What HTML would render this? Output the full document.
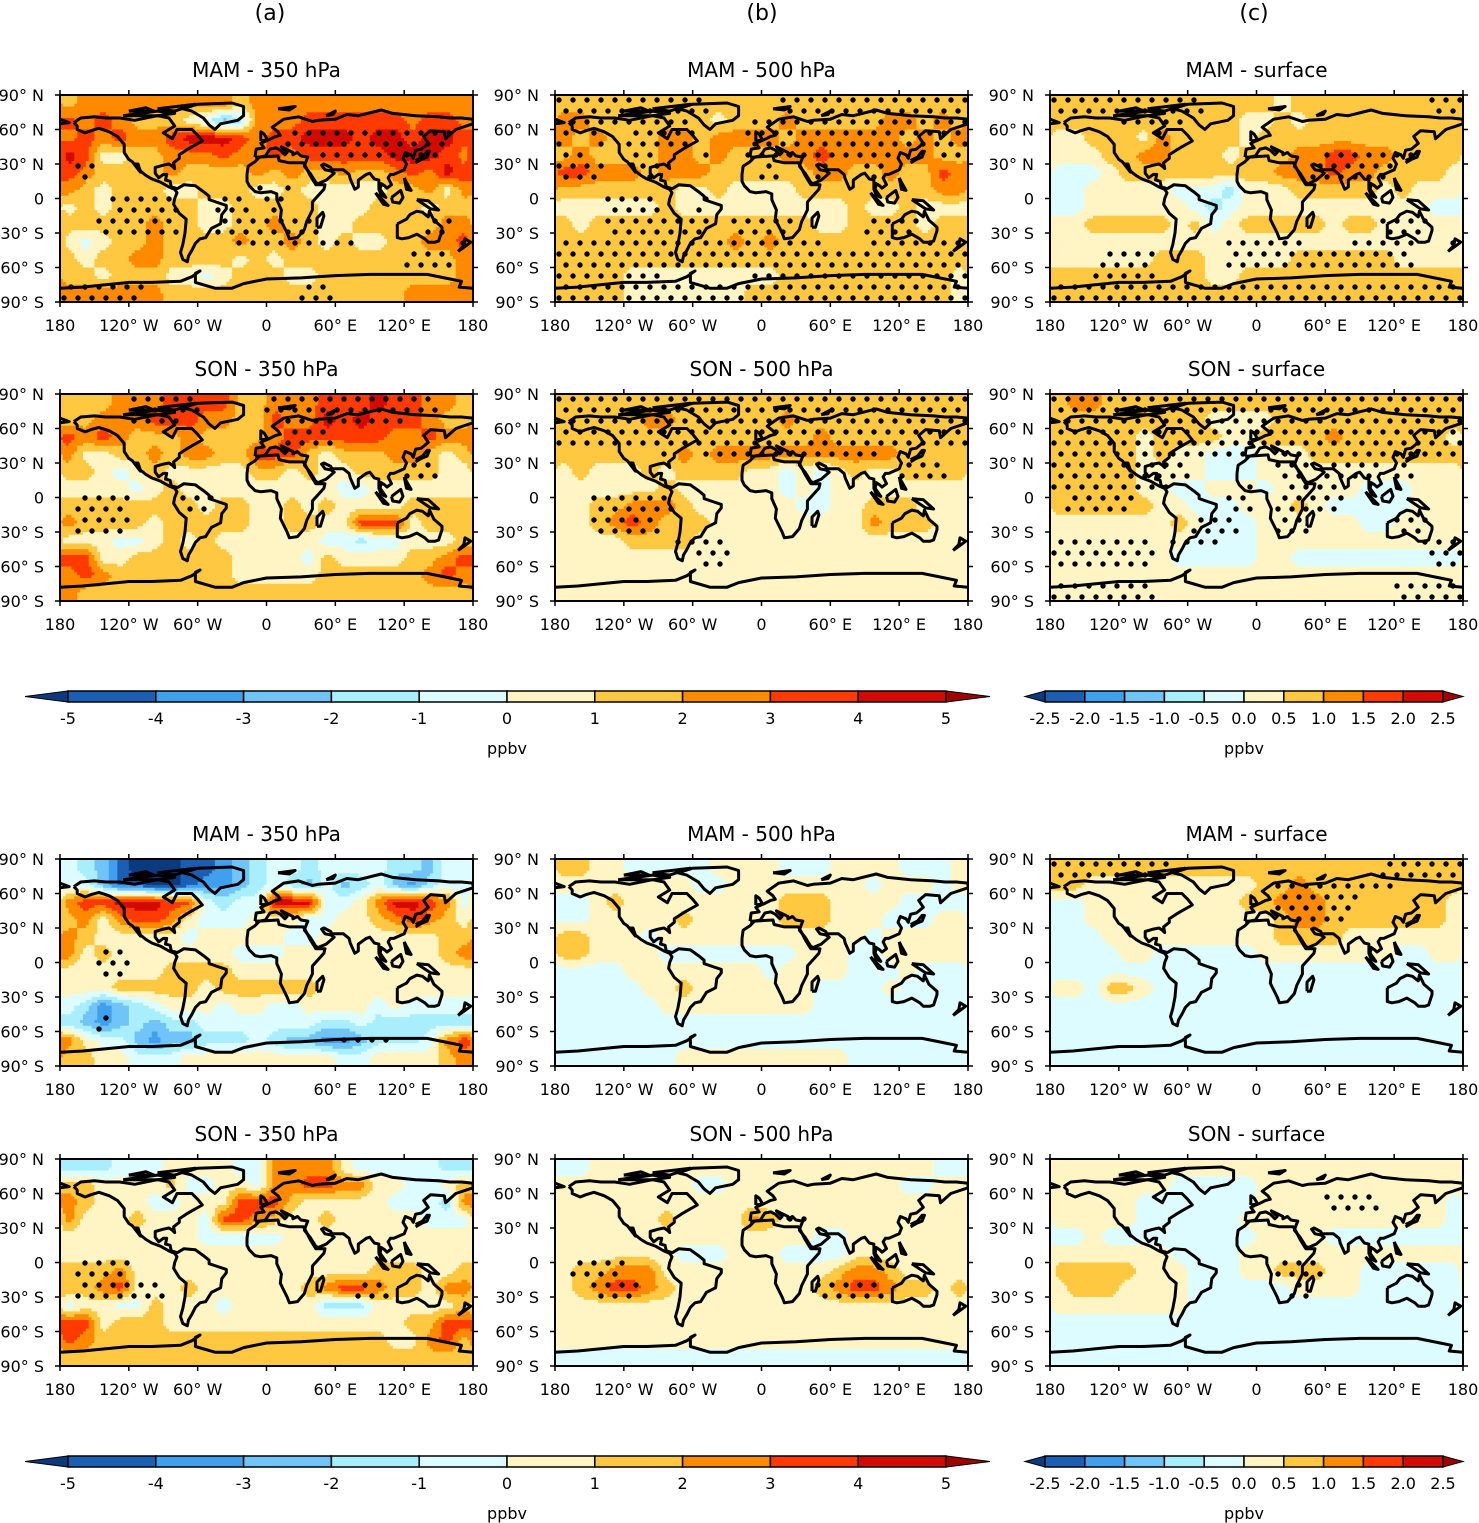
<!DOCTYPE html>
<html><head><meta charset="utf-8"><style>
html,body{margin:0;padding:0;background:#fff;}
svg{display:block;font-family:"DejaVu Sans","Liberation Sans",sans-serif;}
</style></head><body>
<svg id="fig" xmlns="http://www.w3.org/2000/svg" width="1479" height="1523" viewBox="0 0 1479 1523">
<text x="270" y="20" font-size="22" text-anchor="middle">(a)</text>
<text x="762" y="20" font-size="22" text-anchor="middle">(b)</text>
<text x="1254" y="20" font-size="22" text-anchor="middle">(c)</text>
</svg>
<script>
// ---- data: 12 lat bands (90N->90S, 15deg) x 24 lon bands (180W->180E, 15deg); code c -> value (c-5.5)*scale
const titles = ["MAM - 350 hPa","MAM - 500 hPa","MAM - surface","SON - 350 hPa","SON - 500 hPa","SON - surface",
                "MAM - 350 hPa","MAM - 500 hPa","MAM - surface","SON - 350 hPa","SON - 500 hPa","SON - surface"];
const scales = [1,1,0.5,1,1,0.5,1,1,0.5,1,1,0.5];
const fieldA1 = ["788888888878888888888888","989877765348889999998998","8989889aaa9899aaa9aa9aa9","a966778889889899999aaa98","9877778777787877877898a9","876777667776676666677868","676777776677777666777677","777778776677877667777788","656778777787787676677889","767788777767677777777778","776777665677766777777778","888888777777777777778888"];
const fieldB1 = ["777777777777777777777777","887777777677787777788787","878777887888878888887878","787777887877788988888877","998887888777777887787798","777777766766667777777788","666666766666666667667666","767777777777777667777677","777777777787877777777777","777777777777777777777777","777766666666677777777776","777766666667777777777776"];
const fieldC1 = ["777777777777767777777777","777777777776676777777777","667776877776777777777777","666778877767778899887777","555677777777788898877776","556666655546667777767666","556666665456666666666655","667777767567777767766666","666666666666666666666666","666666777666667777776666","777777777667777777777777","777777777777777777777777"];
const fieldA2 = ["777888999977888999a99887","778889998877988a9a999877","989877787777899999988988","866778788779997677788767","776567666667767667777766","666656766666666655666666","777777776776676766667777","877776777776677669996777","666556767666666554556667","996677777766665766667789","898777777766666777777898","877777777777777777777777"];
const fieldB2 = ["777777777777777777777777","777778877777787777777777","777777777777777877777777","777777787888888888887777","676667677776656567667777","666666766666656566666666","667788876666665566777666","667898777666666666877766","666677776666666666666666","666666666666666666666666","666666666666666666666666","666666666666666666666666"];
const fieldC2 = ["788777777777777777777777","777777777666677777777777","777776777766777787777776","777776766555666777777777","777776666555666666666666","777776655666566666555666","777777665556667655555666","666666676555666666556666","666666665555666666666666","666666655555665555555555","666666666666666666666666","666666666666666666666666"];
const fieldA3 = ["543100011234554555544355","553110012234543534532455","899aaa995455aaa5568aa985","786899865556665566789876","876666656666655666666677","867666666655566666666678","666666777766666666666666","666777776777777666666666","542345666566556666565555","432343445555555445444444","865532334445433223444589","776655566666666655666678"];
const fieldB3 = ["776655555666655566665556","666666665566666666566656","556766666666677766665555","556666676666677766655566","776665666666666666566666","776666555555556665566666","555566666666566665556555","555556676666666555565555","555555666666666555555555","555555555555555555555555","555555555555555555555555","555555566666666665555555"];
const fieldC3 = ["777777777777777777777777","776666666666778777777777","556666666667788877777776","556666666666678877777776","555666666666677776666666","555566555555666666665566","555555555555555555555555","665776555555555555555555","555555555555555555555555","555555555555555555555555","555555555555555555555555","555555555555555555555555"];
const fieldA4 = ["444555666655888865555544","776666755665889988665567","876665566699976666655548","866676665998766766666555","666666665555566666666666","666666666666666666666666","777866666666666666777667","778966676666667899877688","566557666566666444666667","996777666666666666667799","987777777777777777766897","777777777777777777777777"];
const fieldB4 = ["556666666666666666666655","666666665566666666665566","666666666666666666666666","666666766668766666666666","666666666666666556666666","666666655566655556666666","677888666666666678876666","678998766666666789987767","666666666666666666666666","666666666666666666666666","666666666666666666666666","555555555555555555555555"];
const fieldC4 = ["666666666666666666666666","666666655555666666666666","666665555555666666666665","666665555556666666666665","556555555555666655555555","666666655556666666666666","777776665556677766555555","677766665555556666555555","666666665555555555555555","555555555555555555555555","555555555555555555555555","555555555555555555555555"];
// significance stippling masks
const Z = "000000000000000000000000";
const maskA1 = [Z,Z,"000000000000011111111110","000000000000000111111100","010000000000000000000000","000000000001010000000000","000111100110100000000000","001111100111111000000110","000000000011111110000001","000000000000000000001110",Z,"111110000000001100000000"];
const maskB1 = ["111111111000011111111111","111111110001111111111111","101011110001111111111111","110011001001111111110011","111001000000100100100000",Z,"000111001000000000000000","000111111011110000111000","111111111111111100111111","111111111111111111111111","111111000001111111111111","111111111111111111111111"];
const maskC1 = ["111111111000000000000011","000011110000000000000000","000000100000000000000000","000000000000000011111000","000000000000000111110000",Z,Z,"000000000000000000011100","000000000011111001111001","000111000011111111111000","001111000000000000000000","111111111111111111111111"];
const maskA2 = ["000011110000111111111100","000011100000011111110000","000000000000011100000000",Z,"000000000000000000001100",Z,"011100011000000000000000","011100000000000000000000",Z,Z,Z,Z];
const maskB2 = ["111111111111111111111111","111111111111111111111111","111111111111111111111111","000000101111111111100000","000000000000000000001110",Z,"001111100000000000000000","001111000000000000000000","000000011100000000000000","000000001100000000000000",Z,Z];
const maskC2 = ["111111111111111111111111","111111111111111111111111","111111111111111111111111","111111111111011111111111","111111110000011011101000","111111100001001110000000","011110000011011110000000","000000001110011000001100","111111011100000000000111","111111000000000000000011",Z,"111111000000000000001111"];
const maskA3 = [Z,Z,Z,Z,Z,"001100000000000000000000","001100000000000000000000",Z,Z,"001000000000000000000000","000000000000000011100000",Z];
const maskB3 = [Z,Z,Z,Z,Z,Z,Z,Z,Z,Z,Z,Z];
const maskC3 = ["111111100000000000011111","000000000000011111110000","000000000000011111000000","000000000000001110000000",Z,Z,Z,Z,Z,Z,Z,Z];
const maskA4 = [Z,Z,Z,Z,Z,Z,"011100000000000000000000","011111000000000001100000",Z,Z,Z,Z];
const maskB4 = [Z,Z,Z,"000000000000011000000000",Z,Z,"011100000000000000000000","001110000000000111100000",Z,Z,Z,Z];
const maskC4 = [Z,Z,"000000000000000011100000",Z,Z,Z,"000000000000011100000000","000000000000001000000000",Z,Z,Z,Z];
const fields = [fieldA1,fieldB1,fieldC1,fieldA2,fieldB2,fieldC2,fieldA3,fieldB3,fieldC3,fieldA4,fieldB4,fieldC4];
const masks = [maskA1,maskB1,maskC1,maskA2,maskB2,maskC2,maskA3,maskB3,maskC3,maskA4,maskB4,maskC4];
const xTickLabels = ["180","120° W","60° W","0","60° E","120° E","180"];
const yTickLabels = ["90° N","60° N","30° N","0","30° S","60° S","90° S"];
const cbLabelsBig = ["-5","-4","-3","-2","-1","0","1","2","3","4","5"];
const cbLabelsSmall = ["-2.5","-2.0","-1.5","-1.0","-0.5","0.0","0.5","1.0","1.5","2.0","2.5"];

const COLORS = ['#0b3a7e','#1a5fb4','#40a0ee','#70c4f8','#a8eefc','#ddfcff','#fff5c4','#ffc840','#ff8a00','#ff3a00','#d20a00','#a00000'];
const NS = "http://www.w3.org/2000/svg";
const svg = document.getElementById('fig');
function mk(tag, attrs, parent){const e=document.createElementNS(NS,tag);for(const k in attrs)e.setAttribute(k,attrs[k]);(parent||svg).appendChild(e);return e;}

const PX=[60,555,1050], PY=[95,394,859,1159], PW=413, PH=207;

const coasts = [
 [[-168,66],[-162,70],[-150,71],[-140,70],[-128,70],[-115,68],[-95,72],[-85,70],[-80,63],[-90,57],[-82,52],[-78,60],[-65,60],[-60,55],[-56,50],[-65,45],[-70,42],[-76,38],[-76,35],[-81,31],[-80,26],[-82,28],[-85,30],[-90,29],[-97,27],[-97,22],[-94,18],[-90,21],[-87,21],[-88,16],[-84,15],[-83,10],[-79,9],[-80,8],[-85,10],[-92,14],[-100,17],[-105,20],[-110,24],[-112,30],[-115,30],[-110,23],[-117,32],[-120,34],[-124,40],[-124,47],[-130,54],[-137,58],[-146,61],[-153,59],[-158,57],[-165,60],[-165,63],[-168,66]],
 [[-73,78],[-60,82],[-30,83],[-20,80],[-20,72],[-25,68],[-40,65],[-45,60],[-50,64],[-55,70],[-65,76],[-73,78]],
 [[-125,72],[-95,76],[-80,74],[-95,72],[-125,72]],[[-95,78],[-62,82],[-80,76],[-95,78]],[[-120,76],[-105,79],[-98,76],[-120,76]],
 [[-80,8],[-77,9],[-72,12],[-62,11],[-55,6],[-50,2],[-50,-1],[-44,-3],[-35,-6],[-35,-9],[-39,-14],[-40,-22],[-48,-26],[-53,-34],[-58,-35],[-62,-39],[-65,-45],[-68,-50],[-69,-55],[-73,-53],[-75,-47],[-73,-40],[-71,-30],[-70,-18],[-76,-13],[-81,-5],[-80,0],[-78,5],[-80,8]],
 [[-17,21],[-16,28],[-10,32],[-6,36],[10,37],[11,33],[20,31],[32,31],[34,28],[38,20],[43,12],[51,12],[50,8],[40,-3],[40,-10],[35,-20],[33,-27],[27,-34],[20,-35],[18,-30],[12,-18],[13,-10],[9,-1],[9,4],[4,6],[-5,5],[-10,6],[-15,11],[-17,15],[-17,21]],
 [[-10,36],[-9,43],[-2,44],[-5,48],[2,51],[8,54],[12,55],[10,58],[5,62],[15,69],[28,71],[40,67],[45,68],[60,69],[70,73],[80,72],[100,77],[110,74],[130,72],[150,71],[160,70],[170,70],[180,69],[180,65],[165,60],[156,52],[155,58],[143,59],[137,54],[141,48],[135,43],[130,42],[128,35],[126,38],[121,40],[119,35],[122,30],[120,25],[111,21],[108,21],[106,18],[109,12],[105,9],[103,11],[100,13],[99,8],[104,1],[100,3],[98,8],[98,16],[94,17],[90,22],[87,21],[80,16],[80,10],[77,8],[73,17],[72,21],[67,25],[57,25],[56,27],[50,30],[48,29],[51,25],[56,24],[59,22],[52,16],[45,13],[43,14],[38,22],[33,28],[34,31],[36,36],[30,37],[27,40],[23,38],[23,40],[19,42],[13,45],[18,40],[16,38],[12,42],[8,44],[3,43],[-1,37],[-6,36],[-10,36]],
 [[-180,69],[-172,66],[-180,65]],
 [[114,-22],[114,-34],[118,-35],[124,-34],[131,-31],[138,-35],[141,-38],[147,-38],[150,-37],[153,-28],[153,-25],[146,-19],[142,-11],[141,-16],[136,-12],[131,-11],[125,-14],[122,-18],[114,-22]],
 [[-180,-78],[-160,-77],[-150,-76],[-120,-73],[-100,-73],[-75,-72],[-65,-68],[-58,-63],[-62,-65],[-62,-73],[-45,-78],[-30,-78],[-20,-74],[0,-70],[30,-69],[60,-67],[90,-66],[120,-66],[140,-66],[160,-70],[170,-72],[168,-77],[180,-78]],
 [[-5,50],[1,51],[-2,56],[-5,58],[-5,50]],[[130,31],[135,34],[140,36],[142,41],[140,41],[136,36],[130,33]],
 [[109,1],[117,7],[119,1],[116,-4],[110,-3],[109,1]],[[95,5],[106,-6],[102,-5],[95,5]],[[131,-1],[141,-2],[150,-10],[143,-9],[131,-1]],
 [[44,-25],[47,-25],[50,-15],[49,-12],[44,-17],[44,-25]],[[167,-46],[174,-41],[178,-38],[173,-35],[172,-41],[167,-46]],
 [[120,18],[122,14],[126,7],[122,8],[120,18]],[[10,78],[25,80],[20,77],[10,78]],[[52,72],[60,76],[58,73],[52,72]]
];

function codeVal(ch, s){return (parseInt(ch,16)-5.5)*s;}
function colorOf(v, s){let k=Math.floor(v/s)+6; if(k<0)k=0; if(k>11)k=11; return COLORS[k];}

for(let p=0;p<12;p++){
  const col=p%3, row=Math.floor(p/3);
  const x0=PX[col], y0=PY[row], s=scales[p];
  const grid=fields[p].map(r=>r.split('').map(ch=>codeVal(ch,s)));
  const lonX = lon => x0+(lon+180)/360*PW;
  const latY = lat => y0+(90-lat)/180*PH;
  const g=mk('g',{});
  
  
  const cid='clip'+p;
  const cp=mk('clipPath',{id:cid},g); mk('rect',{x:x0,y:y0,width:PW,height:PH},cp);
  const field=mk('g',{'clip-path':'url(#'+cid+')'},g);
  
  
  const step=2.5, nx=360/step, ny=180/step;
  function val(lon,lat){
    let gi=(lon+180)/15-0.5, gj=(90-lat)/15-0.5;
    if(gj<0)gj=0; if(gj>11)gj=11;
    const i0=Math.floor(gi), fi=gi-i0, j0=Math.floor(gj), fj=gj-j0;
    const j1=Math.min(j0+1,11), a=(i0%24+24)%24, b=(i0+1)%24;
    const v00=grid[j0][a], v01=grid[j0][b], v10=grid[j1][a], v11=grid[j1][b];
    return (v00*(1-fi)+v01*fi)*(1-fj)+(v10*(1-fi)+v11*fi)*fj;
  }
  for(let j=0;j<ny;j++){
    const lat=90-(j+0.5)*step;
    let runStart=0, runCol=null;
    for(let i=0;i<=nx;i++){
      const c = i<nx ? colorOf(val(-180+(i+0.5)*step,lat),s) : null;
      if(c!==runCol){
        if(runCol!==null){
          mk('rect',{x:lonX(-180+runStart*step).toFixed(2),y:latY(90-j*step).toFixed(2),width:(i-runStart)*step/360*PW+0.6,height:step/180*PH+0.6,fill:runCol},field);
        }
        runStart=i; runCol=c;
      }
    }
  }
  const dots=mk('g',{'clip-path':'url(#'+cid+')'},g);
  
  
  const m=masks[p];
  for(let dy=0, rr=0; y0+5+dy<y0+PH; dy+=11, rr++){
    const yy=y0+5+dy;
    for(let xx=x0+4+(rr%2)*7; xx<x0+PW; xx+=14){
      const lat=90-(yy-y0)/PH*180, lon=-180+(xx-x0)/PW*360;
      const jj=Math.min(11,Math.floor((90-lat)/15)), ii=Math.min(23,Math.floor((lon+180)/15));
      if(m[jj][ii]==='1') mk('circle',{cx:xx,cy:yy,r:2.7,fill:'#000'},dots);
    }
  }
  const cg=mk('g',{'clip-path':'url(#'+cid+')',fill:'none',stroke:'#000','stroke-width':3,'stroke-linejoin':'round'},g);
  
  
  coasts.forEach(c=>{mk('polyline',{points:c.map(q=>lonX(q[0]).toFixed(1)+','+latY(q[1]).toFixed(1)).join(' ')},cg);});
  const fr=mk('rect',{x:x0,y:y0,width:PW,height:PH,fill:'none',stroke:'#000','stroke-width':2},g);
  
  
  xTickLabels.forEach((t,k)=>{
    const x=x0+k*PW/6;
    mk('line',{x1:x,x2:x,y1:y0-5,y2:y0,stroke:'#000','stroke-width':1.5},g);
    mk('line',{x1:x,x2:x,y1:y0+PH,y2:y0+PH+5,stroke:'#000','stroke-width':1.5},g);
    const tx=mk('text',{x:x,y:y0+PH+29,'font-size':16,'text-anchor':'middle'},g); tx.textContent=t;
    
    
  });
  yTickLabels.forEach((t,k)=>{
    const y=y0+k*PH/6;
    mk('line',{x1:x0-5,x2:x0,y1:y,y2:y,stroke:'#000','stroke-width':1.5},g);
    mk('line',{x1:x0+PW,x2:x0+PW+5,y1:y,y2:y,stroke:'#000','stroke-width':1.5},g);
    const ty=mk('text',{x:x0-16,y:y+6,'font-size':16,'text-anchor':'end'},g); ty.textContent=t;
    
    
  });
  const tt=mk('text',{x:x0+PW/2,y:y0-18,'font-size':20,'text-anchor':'middle'},g); tt.textContent=titles[p];
  
  
}

function colorbar(xa,xb,tipL,tipR,y,labels,name){
  const g=mk('g',{});
  
  
  const h=11, w=(xb-xa)/10;
  mk('polygon',{points:`${tipL},${y+h/2} ${xa},${y} ${xa},${y+h}`,fill:COLORS[0],stroke:'#000','stroke-width':1},g);
  mk('polygon',{points:`${tipR},${y+h/2} ${xb},${y} ${xb},${y+h}`,fill:COLORS[11],stroke:'#000','stroke-width':1},g);
  for(let k=0;k<10;k++){
    const r=mk('rect',{x:xa+k*w,y:y,width:w,height:h,fill:COLORS[k+1],stroke:'#000','stroke-width':1.5},g);
    
    
  }
  labels.forEach((t,k)=>{
    const tx=mk('text',{x:xa+k*w,y:y+33,'font-size':16,'text-anchor':'middle'},g); tx.textContent=t;
    
    
  });
  const u=mk('text',{x:(xa+xb)/2,y:y+63,'font-size':16,'text-anchor':'middle'},g); u.textContent='ppbv';
  
  
}
colorbar(68,946,25,990,691,cbLabelsBig,'colorbar-top-left');
colorbar(1045,1443,1025,1463,691,cbLabelsSmall,'colorbar-top-right');
colorbar(68,946,25,990,1456,cbLabelsBig,'colorbar-bottom-left');
colorbar(1045,1443,1025,1463,1456,cbLabelsSmall,'colorbar-bottom-right');
</script>
</body></html>
